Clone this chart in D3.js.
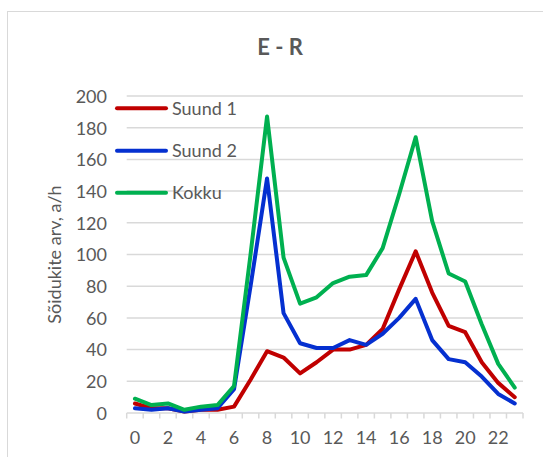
<!DOCTYPE html>
<html>
<head>
<meta charset="utf-8">
<script src="https://cdn.jsdelivr.net/npm/d3@7"></script>
<style>
  html, body { margin: 0; padding: 0; background: #fff; }
  svg { display: block; }
  text { font-family: Lato, "Open Sans", sans-serif; fill: #595959; }
</style>
</head>
<body>
<svg id="chart" width="543" height="457"></svg>
<script>
const title = "E - R";
const yAxisLabel = "Sõidukite arv, a/h";
const hours = d3.range(0, 24);
const xTickLabels = [0, 2, 4, 6, 8, 10, 12, 14, 16, 18, 20, 22];
const yTicks = [0, 20, 40, 60, 80, 100, 120, 140, 160, 180, 200];
const seriesNames = ["Suund 1", "Suund 2", "Kokku"];
const suund1 = [6, 3, 3, 1, 2, 2, 4, 21, 39, 35, 25, 32, 40, 40, 43, 53, 78, 102, 76, 55, 51, 32, 19, 10];
const suund2 = [3, 2, 3, 1, 2, 3, 15, 80, 148, 63, 44, 41, 41, 46, 43, 50, 60, 72, 46, 34, 32, 23, 12, 6];
const kokku  = [9, 5, 6, 2, 4, 5, 17, 100, 187, 98, 69, 73, 82, 86, 87, 104, 138, 174, 121, 88, 83, 56, 31, 16];
const seriesColors = ["#C00000", "#0530D0", "#00B050"];

const series = [suund1, suund2, kokku].map((vals, i) => ({ name: seriesNames[i], color: seriesColors[i], values: vals }));

const svg = d3.select("#chart");
const plot = { left: 126.7, right: 523, top: 96, bottom: 413 };

// frame
svg.append("rect").attr("x", 7.5).attr("y", 11.5).attr("width", 600).attr("height", 500)
  .attr("fill", "#fff").attr("stroke", "#D9D9D9").attr("stroke-width", 1);

const x = d3.scaleBand().domain(hours).range([plot.left, plot.right]).padding(0);
const y = d3.scaleLinear().domain([0, 200]).range([plot.bottom, plot.top]);

// gridlines
svg.append("g").selectAll("line").data(yTicks.filter(d => d > 0)).join("line")
  .attr("x1", plot.left).attr("x2", plot.right)
  .attr("y1", d => y(d)).attr("y2", d => y(d))
  .attr("stroke", "#D9D9D9").attr("stroke-width", 1.5);

// y axis labels
const yAxis = d3.axisLeft(y).tickValues(yTicks).tickSize(0).tickPadding(0);
const yg = svg.append("g").attr("transform", `translate(107,0)`).call(yAxis);
yg.select(".domain").remove();
yg.selectAll("text").attr("font-size", 18).attr("font-family", "Lato, sans-serif").attr("fill", "#595959").attr("dy", "0.35em");

// x axis
const xAxis = d3.axisBottom(x).tickValues([]).tickSize(0);
const xg = svg.append("g").attr("transform", `translate(0,${plot.bottom})`).call(xAxis);
xg.select(".domain").attr("stroke", "#D9D9D9").attr("stroke-width", 1.5).attr("d", `M${plot.left},0H${plot.right}`);
// tick marks at category boundaries
const boundaries = hours.map(h => x(h)).concat([x(23) + x.bandwidth()]);
xg.selectAll("line.tm").data(boundaries).join("line").attr("class", "tm")
  .attr("x1", d => d).attr("x2", d => d).attr("y1", 0).attr("y2", 5.5)
  .attr("stroke", "#D9D9D9").attr("stroke-width", 1.5);
xg.selectAll("text.tl").data(xTickLabels).join("text").attr("class", "tl")
  .attr("x", d => x(d) + x.bandwidth() / 2).attr("y", 31)
  .attr("text-anchor", "middle").attr("font-size", 18).text(d => d);

// lines
const line = d3.line().x((d, i) => x(hours[i]) + x.bandwidth() / 2).y(d => y(d));
svg.append("g").selectAll("path").data(series).join("path")
  .attr("d", d => line(d.values)).attr("fill", "none")
  .attr("stroke", d => d.color).attr("stroke-width", 4)
  .attr("stroke-linejoin", "round").attr("stroke-linecap", "round");

// title
svg.append("text").attr("x", 280).attr("y", 55).attr("text-anchor", "middle")
  .attr("font-size", 22).attr("font-weight", "bold").text(title);

// y axis title
svg.append("text").attr("transform", `translate(61,254.5) rotate(-90)`)
  .attr("text-anchor", "middle").attr("font-size", 18).text(yAxisLabel);

// legend
const legendY = [108.3, 150.7, 192.7];
const lg = svg.append("g").selectAll("g").data(series).join("g")
  .attr("transform", (d, i) => `translate(0,${legendY[i]})`);
lg.append("line").attr("x1", 117).attr("x2", 166).attr("y1", 0).attr("y2", 0)
  .attr("stroke", d => d.color).attr("stroke-width", 4).attr("stroke-linecap", "round");
lg.append("text").attr("x", 172).attr("y", 0).attr("dy", "0.35em")
  .attr("font-size", 18).text(d => d.name);
</script>
</body>
</html>
